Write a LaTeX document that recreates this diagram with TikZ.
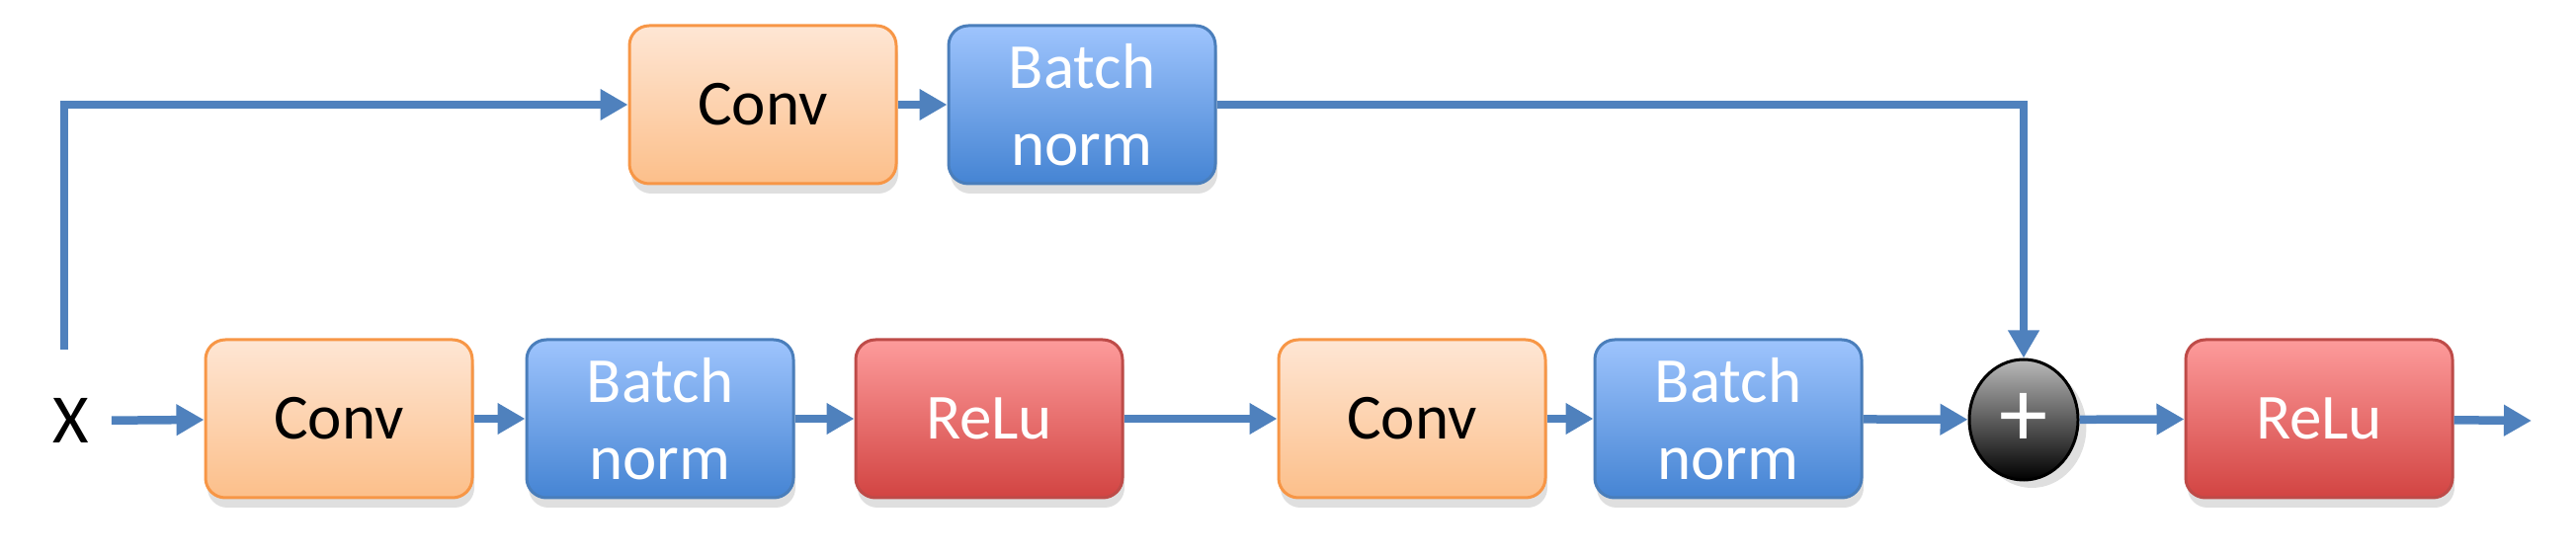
\documentclass[tikz,border=0pt]{standalone}
\usepackage{fontspec}
\setmainfont{Carlito}
\usetikzlibrary{arrows.meta,shadows,shapes.geometric}

\definecolor{arrowblue}{HTML}{4F81BD}
\definecolor{convline}{HTML}{F79646}
\definecolor{convtop}{HTML}{FEE6D4}
\definecolor{convbot}{HTML}{FCBF8A}
\definecolor{bnline}{HTML}{4A7EBB}
\definecolor{bntop}{HTML}{9EC4FD}
\definecolor{bnbot}{HTML}{4584D3}
\definecolor{reluline}{HTML}{BE4B48}
\definecolor{relutop}{HTML}{FD9B9B}
\definecolor{relubot}{HTML}{D24442}

\begin{document}
\begin{tikzpicture}[>={Triangle[length=0.28cm,width=0.3cm]},
  flow/.style={->,line width=0.085cm,draw=arrowblue},
  block/.style={rounded corners=0.2cm,minimum width=2.7cm,minimum height=1.6cm,
    line width=0.03cm,align=center,font=\fontsize{18.5}{22}\selectfont,
    drop shadow={opacity=0.25,shadow xshift=0.02cm,shadow yshift=-0.1cm}},
  convbox/.style={block,draw=convline,top color=convtop,bottom color=convbot,text=black},
  bnbox/.style={block,draw=bnline,top color=bntop,bottom color=bnbot,text=white},
  relubox/.style={block,draw=reluline,top color=relutop,bottom color=relubot,text=white}]
  \useasboundingbox (0,0) rectangle (26.07,5.63);
  % Input
  \node[font=\fontsize{20}{24}\selectfont,inner sep=0.22cm] (x) at (0.72,1.37) {X};
  \coordinate (skip) at (0.65,2.09);
  \coordinate (out) at (25.62,1.37);
  % Shortcut branch
  \node[convbox] (tconv) at (7.72,4.57) {Conv};
  \node[bnbox] (tbn) at (10.95,4.57) {Batch\\norm};
  % Main branch
  \node[convbox] (conv1) at (3.43,1.39) {Conv};
  \node[bnbox] (bn1) at (6.68,1.39) {Batch\\norm};
  \node[relubox] (relu1) at (10.01,1.39) {ReLu};
  \node[convbox] (conv2) at (14.29,1.39) {Conv};
  \node[bnbox] (bn2) at (17.49,1.39) {Batch\\norm};
  \node[relubox] (relu2) at (23.47,1.39) {ReLu};
  % Sum
  \node[ellipse,minimum width=1.1cm,minimum height=1.22cm,inner sep=0pt,draw=black,
    line width=0.03cm,top color=gray!55,bottom color=black,text=white,
    font=\fontsize{28}{28}\selectfont,
    drop shadow={opacity=0.25,shadow yshift=-0.08cm}] (plus) at (20.48,1.38) {+};
  % Connectors
  \draw[flow] (x) -- (conv1);
  \draw[flow] (conv1) -- (bn1);
  \draw[flow] (bn1) -- (relu1);
  \draw[flow] (relu1) -- (conv2);
  \draw[flow] (conv2) -- (bn2);
  \draw[flow] (bn2) -- (plus);
  \draw[flow] (plus) -- (relu2);
  \draw[flow] (relu2) -- (out);
  \draw[flow] (skip) |- (tconv);
  \draw[flow] (tconv) -- (tbn);
  \draw[flow] (tbn) -| (plus);
\end{tikzpicture}
\end{document}
